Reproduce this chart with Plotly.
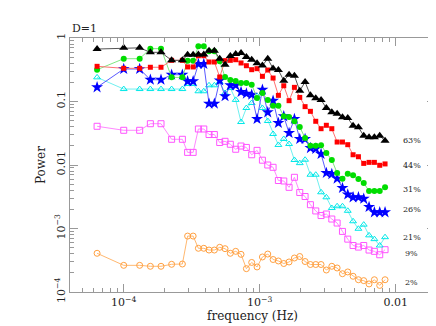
import plotly.graph_objects as go
import numpy as np

# frequency grid (Hz), shared by all curves
freq = [6.37e-5, 1.0e-4, 1.31e-4, 1.57e-4, 1.88e-4, 2.25e-4, 2.70e-4, 2.95e-4, 3.24e-4,
        3.54e-4, 3.88e-4, 4.24e-4, 4.64e-4, 5.08e-4, 5.56e-4, 6.08e-4, 6.66e-4, 7.29e-4,
        7.98e-4, 8.73e-4, 9.56e-4, 1.047e-3, 1.146e-3, 1.254e-3, 1.372e-3, 1.503e-3,
        1.644e-3, 1.80e-3, 1.97e-3, 2.156e-3, 2.36e-3, 2.583e-3, 2.826e-3, 3.09e-3,
        3.39e-3, 3.71e-3, 4.06e-3, 4.44e-3, 4.86e-3, 5.32e-3, 5.82e-3, 6.37e-3,
        6.97e-3, 7.63e-3, 8.35e-3]

p63 = [0.67, 0.70, 0.70, 0.595, 0.595, 0.445, 0.445, 0.546, 0.546, 0.55, 0.55, 0.63, 0.63,
       0.47, 0.38, 0.52, 0.56, 0.58, 0.50, 0.455, 0.40, 0.37, 0.47, 0.33, 0.313, 0.213,
       0.264, 0.255, 0.148, 0.203, 0.125, 0.112, 0.106, 0.079, 0.0676, 0.064, 0.0564,
       0.055, 0.0416, 0.0392, 0.0289, 0.0273, 0.0273, 0.0289, 0.0241]
p44 = [0.358, 0.333, 0.333, 0.346, 0.346, 0.445, 0.445, 0.35, 0.35, 0.526, 0.526, 0.419,
       0.419, 0.243, 0.44, 0.445, 0.455, 0.404, 0.366, 0.317, 0.329, 0.249, 0.313, 0.234,
       0.125, 0.177, 0.103, 0.167, 0.116, 0.083, 0.070, 0.0488, 0.0373, 0.0422, 0.0373,
       0.023, 0.023, 0.0209, 0.0145, 0.0135, 0.0106, 0.011, 0.011, 0.0099, 0.0104]
p31 = [0.317, 0.472, 0.472, 0.68, 0.68, 0.24, 0.24, 0.44, 0.44, 0.74, 0.74, 0.62, 0.62,
       0.43, 0.243, 0.218, 0.21, 0.196, 0.196, 0.184, 0.114, 0.136, 0.106, 0.086, 0.086,
       0.0585, 0.057, 0.0488, 0.0397, 0.0266, 0.0201, 0.0201, 0.0204, 0.0155, 0.012,
       0.0075, 0.0061, 0.0073, 0.0069, 0.006, 0.0052, 0.0039, 0.0039, 0.0039, 0.00445]
p26 = [0.1675, 0.325, 0.325, 0.22, 0.22, 0.264, 0.264, 0.208, 0.208, 0.39, 0.39, 0.0923,
       0.0923, 0.214, 0.121, 0.18, 0.18, 0.141, 0.133, 0.128, 0.053, 0.153, 0.0676, 0.103,
       0.0459, 0.0585, 0.0319, 0.053, 0.0257, 0.0257, 0.0185, 0.018, 0.0149, 0.0075,
       0.0072, 0.0061, 0.00434, 0.00343, 0.0031, 0.0031, 0.00294, 0.00218, 0.0018,
       0.0018, 0.0018]
p21 = [0.24, 0.157, 0.157, 0.157, 0.157, 0.157, 0.157, 0.189, 0.189, 0.145, 0.145, 0.18,
       0.18, 0.203, 0.136, 0.163, 0.106, 0.0475, 0.079, 0.0947, 0.122, 0.079, 0.0493,
       0.0308, 0.0207, 0.0257, 0.0214, 0.012, 0.0107, 0.0121, 0.00703, 0.00703, 0.00372,
       0.0031, 0.0021, 0.00224, 0.00224, 0.0019, 0.0013, 0.00099, 0.00115, 0.00078,
       0.00068, 0.00054, 0.00073]
p9 = [0.0407, 0.0352, 0.0352, 0.0447, 0.0447, 0.0254, 0.0254, 0.0158, 0.0158, 0.0369,
      0.0369, 0.0302, 0.0302, 0.0226, 0.0236, 0.0212, 0.0177, 0.0199, 0.0189, 0.0145,
      0.017, 0.0119, 0.01, 0.0092, 0.0057, 0.0056, 0.00445, 0.0064, 0.00369, 0.00319,
      0.00237, 0.00189, 0.0016, 0.00169, 0.00141, 0.00122, 0.0009, 0.00068, 0.00054,
      0.00051, 0.00054, 0.000458, 0.000437, 0.000386, 0.000464]
p2 = [0.000407, 0.000263, 0.000263, 0.000254, 0.000254, 0.000273, 0.000276, 0.00076,
      0.00076, 0.000488, 0.000488, 0.000458, 0.000458, 0.000506, 0.000481, 0.000407,
      0.000437, 0.000392, 0.000233, 0.000292, 0.000248, 0.000356, 0.000396, 0.000325,
      0.000308, 0.000281, 0.000297, 0.000343, 0.000362, 0.000302, 0.000271, 0.000271,
      0.000271, 0.000222, 0.000254, 0.000239, 0.000194, 0.000207, 0.000177, 0.000156,
      0.000151, 0.000134, 0.000156, 0.000127, 0.000156]

labels = ["63%", "44%", "31%", "26%", "21%", "9%", "2%"]
label_y = [0.0239, 0.0100, 0.00404, 0.00198, 0.00071, 0.0004, 0.000139]

# (values, marker symbol, marker colour, line colour, size)
series = [
    (p2, "circle-open", "#ffa040", "#ffb870", 6),
    (p9, "square-open", "#ff55ff", "#ff88ff", 6),
    (p21, "triangle-up-open", "#00e8e8", "#70f0f0", 6),
    (p26, "star", "#0000ff", "#5a5aff", 9),
    (p31, "circle", "#00dd00", "#80e880", 6),
    (p44, "square", "#ff0000", "#ff7070", 5),
    (p63, "triangle-up", "#000000", "#555555", 8),
]

fig = go.Figure()
for vals, sym, mc, lc, sz in series:
    open_ = sym.endswith("open")
    fig.add_trace(go.Scatter(
        x=freq, y=vals, mode="lines+markers",
        line=dict(color=lc, width=1),
        marker=dict(symbol=sym, size=sz, color=mc,
                    line=dict(color=mc, width=1 if open_ else 0)),
        showlegend=False))

for t, yv in zip(labels, label_y):
    fig.add_annotation(x=np.log10(0.0131), y=np.log10(yv), text=t, showarrow=False,
                       xref="x", yref="y", font=dict(size=8, color="#222"))

fig.add_annotation(x=0, y=1, xref="paper", yref="paper", text="D=1", showarrow=False,
                   xanchor="left", yanchor="bottom", yshift=1,
                   font=dict(size=11, color="#222"))

axcol = "#999999"
fig.update_xaxes(type="log", range=[-4.395, -1.711], showline=True, linecolor=axcol,
                 mirror="ticks", ticks="inside", ticklen=8, tickcolor=axcol,
                 tickvals=[1e-4, 1e-3, 1e-2],
                 ticktext=["10<sup>\u22124</sup>", "10<sup>\u22123</sup>", "0.01"],
                 minor=dict(ticks="inside", ticklen=4, tickcolor=axcol, dtick="D1"),
                 showgrid=False, zeroline=False,
                 title=dict(text="frequency (Hz)", standoff=3, font=dict(size=12)))
fig.update_yaxes(type="log", range=[-4, 0], showline=True, linecolor=axcol,
                 mirror="ticks", ticks="inside", ticklen=8, tickcolor=axcol,
                 tickvals=[1e-4, 1e-3, 1e-2, 0.1, 1],
                 ticktext=["10<sup>\u22124</sup>", "10<sup>\u22123</sup>", "0.01", "0.1", "1"],
                 tickangle=-90,
                 minor=dict(ticks="inside", ticklen=4, tickcolor=axcol, dtick="D1"),
                 showgrid=False, zeroline=False,
                 title=dict(text="Power", standoff=4, font=dict(size=12)))

fig.update_layout(width=436, height=326, margin=dict(l=62, r=9, t=30, b=42),
                  paper_bgcolor="white", plot_bgcolor="white",
                  font=dict(family="DejaVu Serif", size=11, color="#222"))
fig.write_html("out.html")
